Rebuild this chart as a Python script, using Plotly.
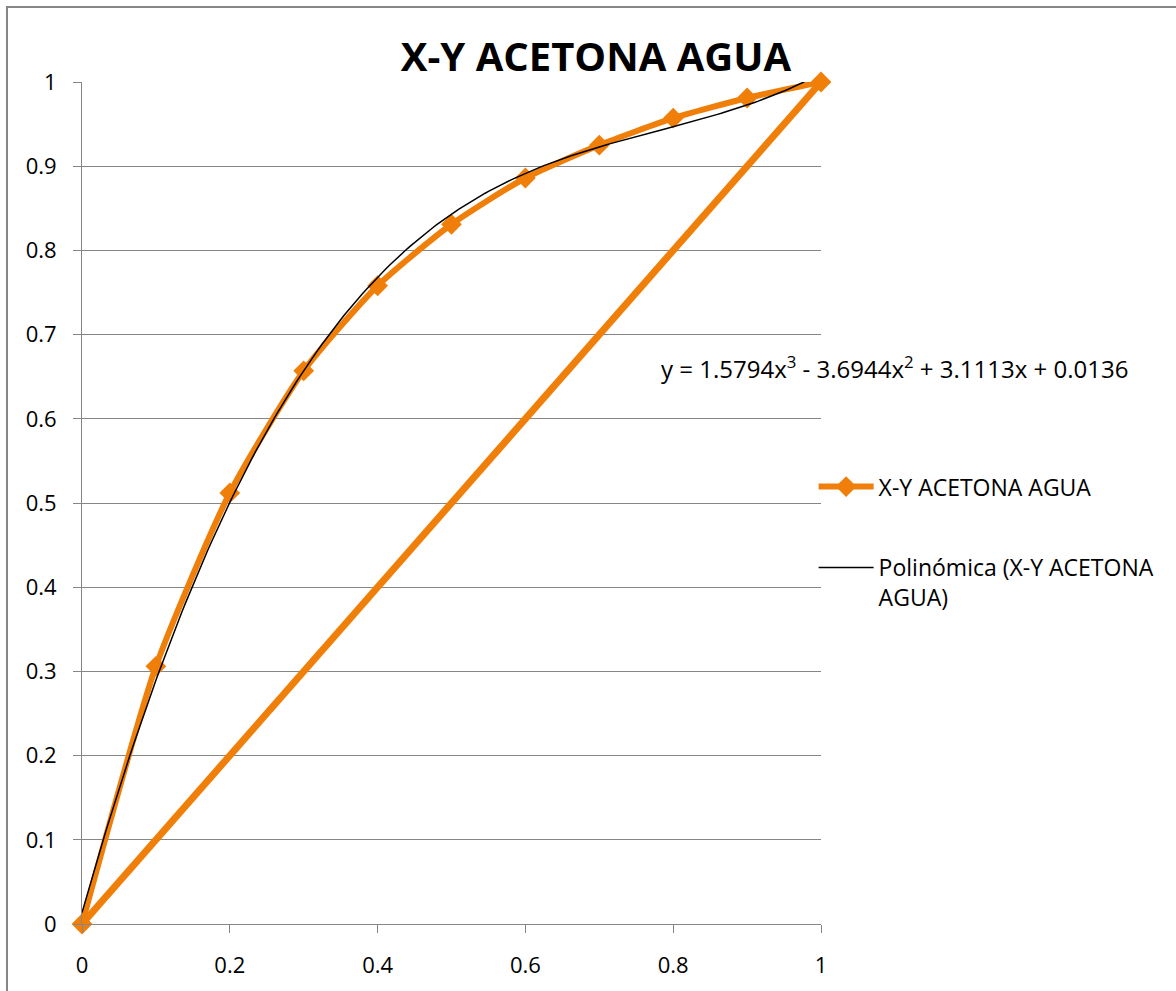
import numpy as np
import plotly.graph_objects as go

# Equilibrium data: liquid fraction x vs vapour fraction y (acetone-water)
x_liq = [0.0, 0.1, 0.2, 0.3, 0.4, 0.5, 0.6, 0.7, 0.8, 0.9, 1.0]
y_vap = [0.0, 0.306, 0.512, 0.657, 0.758, 0.831, 0.886, 0.925, 0.957, 0.981, 1.0]

# 45-degree reference line
diag_x = [1.0, 0.0]
diag_y = [1.0, 0.0]

# Cubic trendline coefficients (highest power first)
poly_coef = [1.5794, -3.6944, 3.1113, 0.0136]

ORANGE = "#F07F09"
GRID = "#868686"
FONT = "Open Sans, Liberation Sans, sans-serif"

xt = np.linspace(0, 1, 201)
yt = np.polyval(poly_coef, xt)

fig = go.Figure()

fig.add_trace(go.Scatter(
    x=x_liq, y=y_vap, mode="lines+markers", name="X-Y ACETONA AGUA",
    line=dict(color=ORANGE, width=6, shape="spline", smoothing=0.6),
    marker=dict(symbol="diamond", size=16, color=ORANGE),
    cliponaxis=False, legendgroup="a",
))
fig.add_trace(go.Scatter(
    x=diag_x, y=diag_y, mode="lines", showlegend=False,
    line=dict(color=ORANGE, width=7), cliponaxis=False, legendgroup="a",
))
fig.add_trace(go.Scatter(
    x=xt, y=yt, mode="lines", name="Polinómica (X-Y ACETONA<br>AGUA)",
    line=dict(color="black", width=1.5), cliponaxis=False, legendgroup="b",
))

eq = "y = 1.5794x<sup>3</sup> - 3.6944x<sup>2</sup> + 3.1113x + 0.0136"

fig.update_layout(
    width=1176, height=991,
    margin=dict(l=82, r=355, t=82, b=67),
    paper_bgcolor="white", plot_bgcolor="white",
    font=dict(family=FONT, size=23, color="black"),
    title=dict(text="<b>X-Y ACETONA AGUA</b>", x=0.6955, xref="paper", xanchor="center",
               y=0.942, yref="container", yanchor="middle",
               font=dict(family=FONT, size=40, color="black")),
    xaxis=dict(range=[0, 1], dtick=0.2, showgrid=False, showline=True, linecolor=GRID,
               linewidth=1, ticks="outside", ticklen=8, tickcolor=GRID, zeroline=False,
               tickfont=dict(size=22), tickformat="~g", ticklabelstandoff=14),
    yaxis=dict(range=[0, 1], dtick=0.1, showgrid=True, gridcolor=GRID, gridwidth=1,
               showline=True, linecolor=GRID, linewidth=1, ticks="outside", ticklen=8,
               tickcolor=GRID, zeroline=False, tickfont=dict(size=22), tickformat="~g",
               ticklabelstandoff=12),
    legend=dict(x=0.99, xanchor="left", y=0.545, yanchor="top", font=dict(size=23),
                tracegroupgap=48, valign="top", itemwidth=55, bgcolor="rgba(0,0,0,0)"),
    showlegend=True,
    annotations=[dict(text=eq, x=0.781, y=0.661, xref="paper", yref="paper",
                      xanchor="left", yanchor="middle", showarrow=False,
                      font=dict(size=24))],
    shapes=[dict(type="rect", xref="paper", yref="paper", x0=-0.1015, x1=1.6,
                 y0=-0.2, y1=1.089, line=dict(color=GRID, width=2), layer="below")],
)

fig.write_html("out.html")
